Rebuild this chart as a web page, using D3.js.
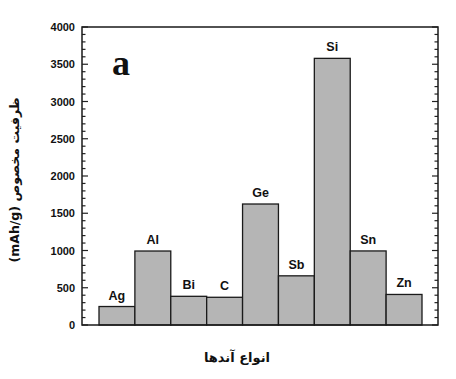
<!DOCTYPE html>
<html>
<head>
<meta charset="utf-8">
<script src="https://cdn.jsdelivr.net/npm/d3@7"></script>
<style>
  body { margin: 0; background: #fff; }
  svg { display: block; }
</style>
</head>
<body>
<div id="chart"></div>
<script>
// anode materials and their theoretical capacity (mAh/g)
var anodes = ["Ag", "Al", "Bi", "C", "Ge", "Sb", "Si", "Sn", "Zn"];
var capacity = [248, 993, 385, 372, 1624, 660, 3579, 994, 410];
var yTicks = [0, 500, 1000, 1500, 2000, 2500, 3000, 3500, 4000];

var svgWidth = 456, svgHeight = 379;
var margin = { top: 27, right: 18, bottom: 54, left: 82 };
var width = svgWidth - margin.left - margin.right;
var height = svgHeight - margin.top - margin.bottom;

var svg = d3.select("#chart").append("svg")
    .attr("width", svgWidth)
    .attr("height", svgHeight);

var chartGroup = svg.append("g")
    .attr("transform", `translate(${margin.left}, ${margin.top})`);

// scales
var xScale = d3.scaleBand()
    .domain(anodes)
    .range([17, width - 16])
    .padding(0);

var yScale = d3.scaleLinear()
    .domain([0, 4000])
    .range([height, 0]);

// bars
chartGroup.selectAll("rect.bar")
    .data(anodes)
    .enter()
    .append("rect")
    .attr("class", "bar")
    .attr("x", d => xScale(d))
    .attr("y", (d, i) => yScale(capacity[i]))
    .attr("width", xScale.bandwidth())
    .attr("height", (d, i) => height - yScale(capacity[i]))
    .attr("fill", "#b5b5b5")
    .attr("stroke", "#1a1a1a")
    .attr("stroke-width", 1.3);

// bar labels
chartGroup.selectAll("text.lbl")
    .data(anodes)
    .enter()
    .append("text")
    .attr("class", "lbl")
    .attr("x", d => xScale(d) + xScale.bandwidth() / 2)
    .attr("y", (d, i) => yScale(capacity[i]) - 7)
    .attr("text-anchor", "middle")
    .style("font-family", "Liberation Sans, Arial, sans-serif")
    .style("font-weight", "bold")
    .style("font-size", "12.5px")
    .attr("fill", "#111")
    .text(d => d);

// minor ticks every 100 on both sides
var minor = d3.range(0, 4001, 100);

// left axis
var leftAxis = d3.axisLeft(yScale).tickValues(yTicks).tickFormat(d3.format("d")).tickSize(0).tickPadding(7);
var gl = chartGroup.append("g").call(leftAxis);
gl.select(".domain").remove();
gl.selectAll("text")
    .style("font-family", "Liberation Sans, Arial, sans-serif")
    .style("font-weight", "bold")
    .style("font-size", "11px")
    .attr("fill", "#111");

// inward ticks
[0, width].forEach(function (x0) {
    var dir = x0 === 0 ? 1 : -1;
    chartGroup.append("g").selectAll("line")
        .data(minor)
        .enter()
        .append("line")
        .attr("x1", x0)
        .attr("x2", d => x0 + dir * (d % 500 === 0 ? 6 : 3.5))
        .attr("y1", d => yScale(d))
        .attr("y2", d => yScale(d))
        .attr("stroke", "#222")
        .attr("stroke-width", 1.2);
});

// frame
chartGroup.append("rect")
    .attr("x", 0)
    .attr("y", 0)
    .attr("width", width)
    .attr("height", height)
    .attr("fill", "none")
    .attr("stroke", "#1a1a1a")
    .attr("stroke-width", 1.5);

// panel letter
chartGroup.append("text")
    .attr("x", 30)
    .attr("y", 48)
    .style("font-family", "Liberation Serif, Times New Roman, serif")
    .style("font-weight", "bold")
    .style("font-size", "36px")
    .attr("fill", "#111")
    .text("a");

// axis titles
svg.append("text")
    .attr("transform", "translate(19, 180) rotate(-90)")
    .attr("text-anchor", "middle")
    .attr("direction", "rtl")
    .style("font-family", "DejaVu Sans, sans-serif")
    .style("font-weight", "bold")
    .style("font-size", "12.5px")
    .attr("fill", "#111")
    .text("ظرفیت مخصوص (mAh/g)");

svg.append("text")
    .attr("x", 237)
    .attr("y", 362)
    .attr("text-anchor", "middle")
    .attr("direction", "rtl")
    .style("font-family", "DejaVu Sans, sans-serif")
    .style("font-weight", "bold")
    .style("font-size", "13px")
    .attr("fill", "#111")
    .text("انواع آندها");
</script>
</body>
</html>
